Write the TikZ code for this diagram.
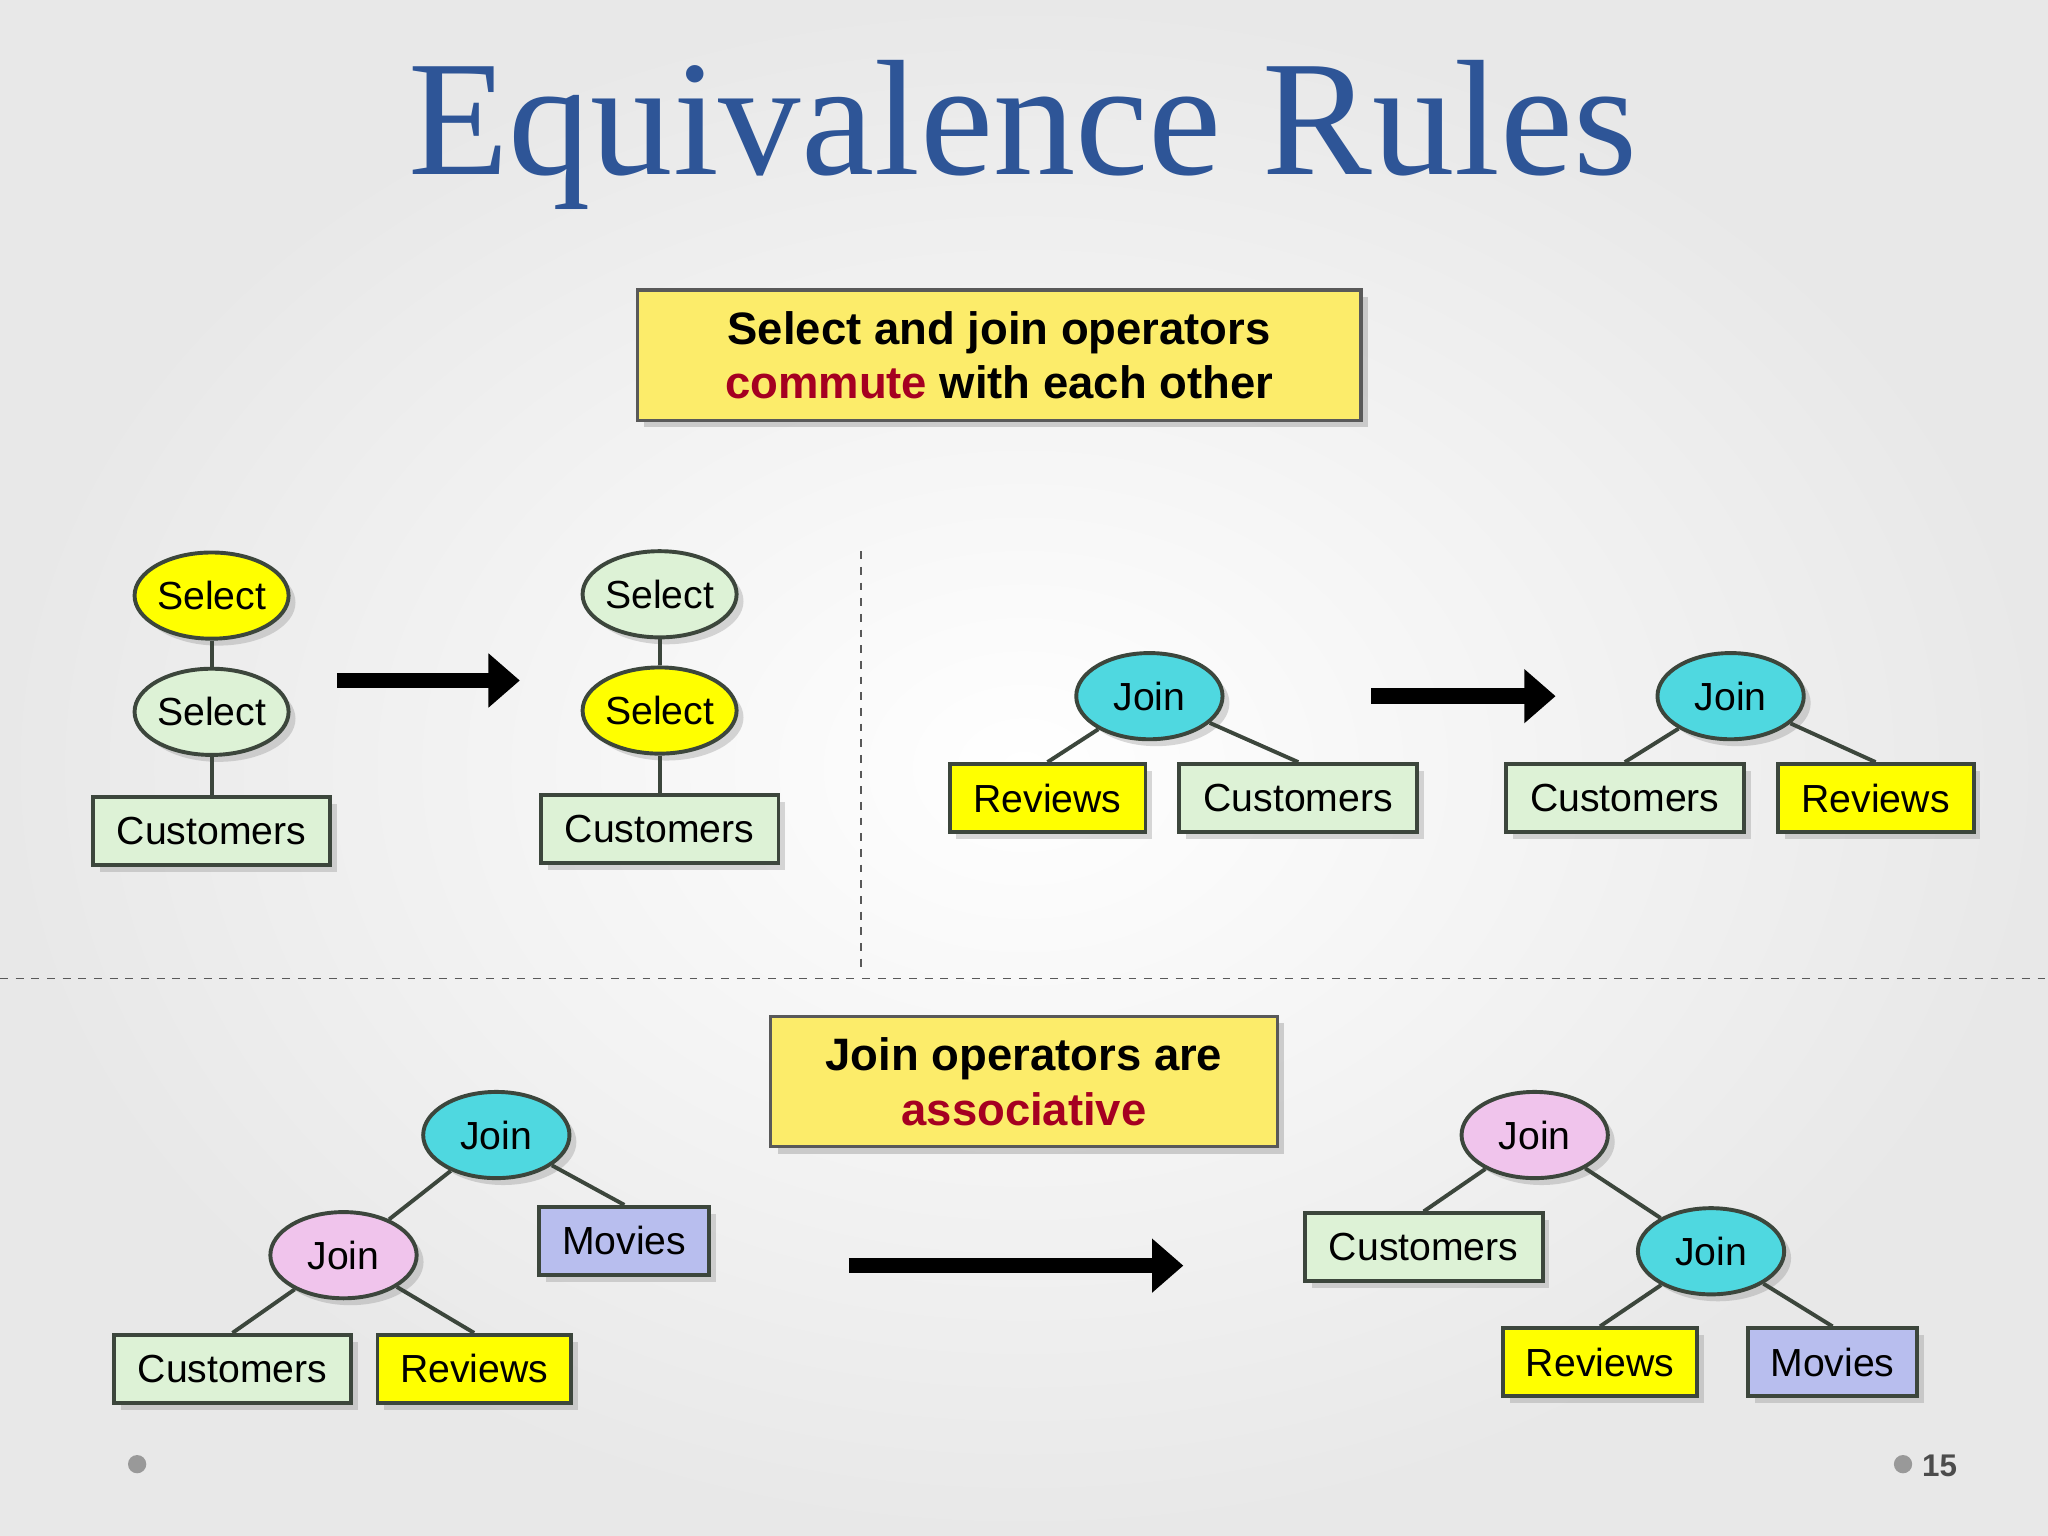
\documentclass[tikz,border=0pt]{standalone}
\usepackage{fontspec}
\setmainfont{Liberation Sans}
\newfontfamily\titlefont{Liberation Serif}
\usetikzlibrary{shapes.geometric,arrows.meta,shadows}
\definecolor{ttl}{HTML}{2E5597}
\definecolor{yel}{HTML}{FFFF00}
\definecolor{grn}{HTML}{DDF2D6}
\definecolor{cyn}{HTML}{4FD8E0}
\definecolor{pnk}{HTML}{F0C4EC}
\definecolor{lav}{HTML}{B8BEEE}
\definecolor{boxy}{HTML}{FCEC6A}
\definecolor{dred}{HTML}{A50021}
\definecolor{edge}{HTML}{3C463C}
\tikzset{
 el/.style={ellipse,draw=edge,line width=1.5pt,minimum width=56pt,minimum height=33pt,inner sep=0pt,font=\fontsize{15}{15}\selectfont,drop shadow={opacity=0.3}},
 rc/.style={rectangle,draw=edge,line width=1.5pt,minimum height=26pt,inner sep=0pt,font=\fontsize{15}{15}\selectfont,drop shadow={opacity=0.3}},
 tb/.style={rectangle,fill=boxy,draw=gray!70!black,line width=1.2pt,align=center,font=\bfseries\fontsize{17.4}{21}\selectfont,drop shadow={opacity=0.35}},
 ln/.style={line width=1.5pt,draw=edge},
 ar/.style={line width=6pt,-{Triangle[length=12pt,width=20pt]}},
}
\begin{document}
\begin{tikzpicture}[x=0.5pt,y=-0.5pt]
\useasboundingbox (0,0) rectangle (1568,1176);
\shade[inner color=white,outer color=gray!18] (0,0) rectangle (1568,1176);
\node[font=\titlefont\fontsize{63}{63}\selectfont,text=ttl] (title) at (783,103) {Equivalence Rules};
\node[tb,minimum width=277pt,minimum height=50pt] (b1) at (765,272) {Select and join operators\\\textcolor{dred}{commute} with each other};
\node[tb,minimum width=194pt,minimum height=50pt] (b2) at (784,828) {Join operators are\\\textcolor{dred}{associative}};
\coordinate (v1) at (659,422); \coordinate (v2) at (659,745);
\draw[gray!70!black,dashed,line width=0.6pt] (v1) -- (v2);
\coordinate (h1) at (0,749); \coordinate (h2) at (1568,749);
\draw[gray!70!black,dashed,line width=0.6pt] (h1) -- (h2);
% tree 1
\node[el,fill=yel] (s1) at (162,456) {Select};
\node[el,fill=grn] (s2) at (162,545) {Select};
\node[rc,fill=grn,minimum width=91pt] (c1) at (162,636) {Customers};
\draw[ln] (s1) -- (s2); \draw[ln] (s2) -- (c1);
\coordinate (a1s) at (258,521); \coordinate (a1e) at (398,521);
\draw[ar] (a1s) -- (a1e);
\node[el,fill=grn] (s3) at (505,455) {Select};
\node[el,fill=yel] (s4) at (505,544) {Select};
\node[rc,fill=grn,minimum width=91pt] (c2) at (505,635) {Customers};
\draw[ln] (s3) -- (s4); \draw[ln] (s4) -- (c2);
% tree 2
\node[el,fill=cyn] (j1) at (880,533) {Join};
\node[rc,fill=yel,minimum width=75pt] (r1) at (802,611) {Reviews};
\node[rc,fill=grn,minimum width=91pt] (c3) at (994,611) {Customers};
\draw[ln] (j1) -- (r1.north); \draw[ln] (j1) -- (c3.north);
\coordinate (a2s) at (1050,533); \coordinate (a2e) at (1191,533);
\draw[ar] (a2s) -- (a2e);
\node[el,fill=cyn] (j2) at (1325,533) {Join};
\node[rc,fill=grn,minimum width=91pt] (c4) at (1244,611) {Customers};
\node[rc,fill=yel,minimum width=75pt] (r2) at (1436,611) {Reviews};
\draw[ln] (j2) -- (c4.north); \draw[ln] (j2) -- (r2.north);
% tree 3
\node[el,fill=cyn] (j3) at (380,869) {Join};
\node[el,fill=pnk] (j4) at (263,961) {Join};
\node[rc,fill=lav,minimum width=65pt] (m1) at (478,950) {Movies};
\node[rc,fill=grn,minimum width=91pt] (c5) at (178,1048) {Customers};
\node[rc,fill=yel,minimum width=74pt] (r3) at (363,1048) {Reviews};
\draw[ln] (j3) -- (j4); \draw[ln] (j3) -- (m1.north);
\draw[ln] (j4) -- (c5.north); \draw[ln] (j4) -- (r3.north);
\coordinate (a3s) at (650,969); \coordinate (a3e) at (906,969);
\draw[ar] (a3s) -- (a3e);
\node[el,fill=pnk] (j5) at (1175,869) {Join};
\node[rc,fill=grn,minimum width=91pt] (c6) at (1090,955) {Customers};
\node[el,fill=cyn] (j6) at (1310,958) {Join};
\node[rc,fill=yel,minimum width=74pt] (r4) at (1225,1043) {Reviews};
\node[rc,fill=lav,minimum width=65pt] (m2) at (1403,1043) {Movies};
\draw[ln] (j5) -- (c6.north); \draw[ln] (j5) -- (j6);
\draw[ln] (j6) -- (r4.north); \draw[ln] (j6) -- (m2.north);
% footer
\node[circle,fill=gray!80,inner sep=0pt,minimum size=7pt] (d1) at (105,1121) {};
\node[circle,fill=gray!80,inner sep=0pt,minimum size=7pt] (d2) at (1457,1121) {};
\node[font=\bfseries\fontsize{12}{12}\selectfont,text=gray!60!black] (pg) at (1485,1122) {15};
\end{tikzpicture}
\end{document}
